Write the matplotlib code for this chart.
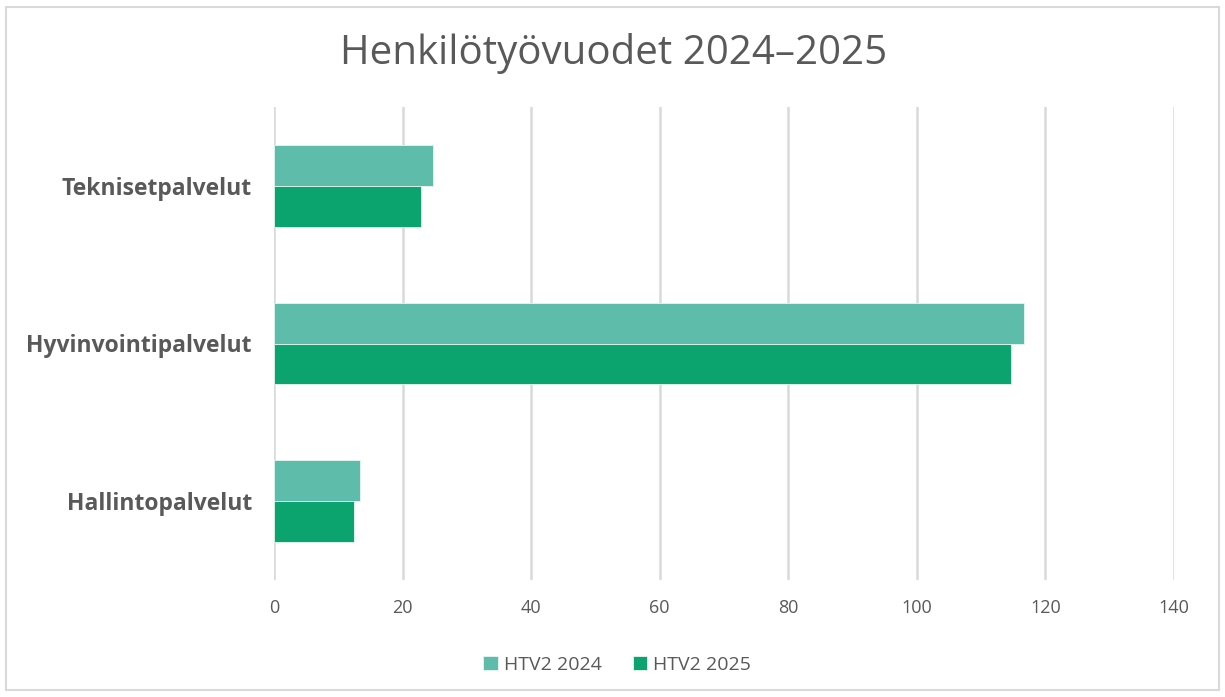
import numpy as np
import matplotlib.pyplot as plt
from matplotlib.patches import Rectangle

# data
categories = ['Hallintopalvelut', 'Hyvinvointipalvelut', 'Teknisetpalvelut']
htv_2024 = [13.3, 116.6, 24.7]
htv_2025 = [12.4, 114.7, 22.9]
series_names = ['HTV2 2024', 'HTV2 2025']
xticks = [0, 20, 40, 60, 80, 100, 120, 140]

col_2024 = '#5dbdaa'
col_2025 = '#0ba46e'
txt = '#595959'

plt.rcParams['font.family'] = ['Open Sans', 'DejaVu Sans']

fig = plt.figure(figsize=(12.25, 6.97), dpi=100)
# outer frame like the excel chart border
fig.patches.append(Rectangle((6/1225, 7/697), 1213/1225, 683/697, transform=fig.transFigure,
                             fill=False, edgecolor='#d9d9d9', linewidth=1.5))

ax = fig.add_axes([274/1225, 1 - 580/697, 900/1225, 473/697])

y = np.arange(len(categories))
h = 0.26
ax.barh(y + h/2, htv_2024, height=h, color=col_2024, edgecolor='#e8f6f1', linewidth=0.6,
        label=series_names[0], zorder=3)
ax.barh(y - h/2, htv_2025, height=h, color=col_2025, edgecolor='#e8f6f1', linewidth=0.6,
        label=series_names[1], zorder=3)

ax.set_xlim(0, 140)
ax.set_ylim(-0.5, 2.5)
ax.set_xticks(xticks)
ax.set_yticks(y)
ax.set_yticklabels(categories, fontsize=16.5, fontweight='bold', color=txt)
ax.tick_params(axis='x', labelsize=13, colors=txt, length=0, pad=14)
ax.tick_params(axis='y', length=0, pad=16)
ax.grid(axis='x', color='#d9d9d9', linewidth=1.8, zorder=0)
for s in ax.spines.values():
    s.set_visible(False)

fig.text(614/1225, 1 - 54/697, 'Henkilötyövuodet 2024–2025', ha='center', va='center',
         fontsize=29, color=txt)

leg = fig.legend(loc='center', bbox_to_anchor=(617/1225, 1 - 665/697), ncol=2, frameon=False,
                 fontsize=14, handlelength=0.75, handleheight=0.75, handletextpad=0.3,
                 columnspacing=1.6)
for t in leg.get_texts():
    t.set_color(txt)

fig.savefig('out.png', dpi=100)
